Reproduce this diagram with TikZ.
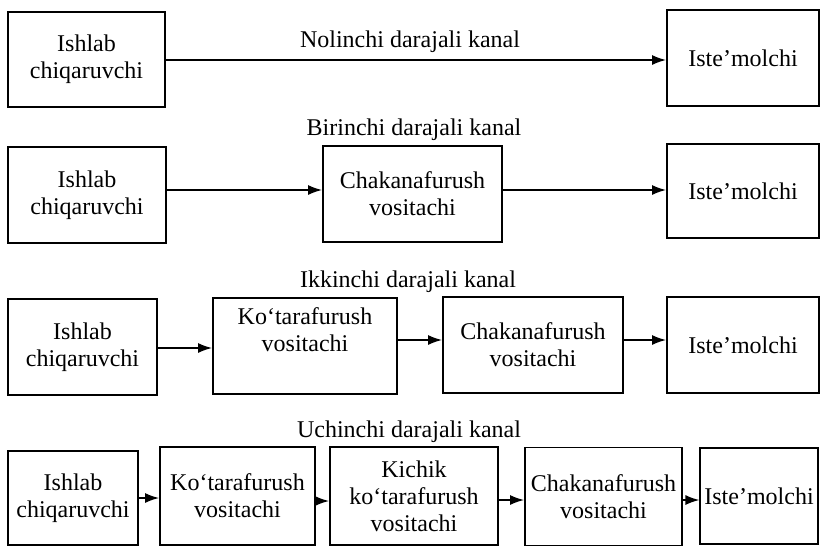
\documentclass[tikz,border=0pt]{standalone}
\usepackage{fontspec}
\setmainfont{Liberation Serif}
\usetikzlibrary{arrows.meta}

\begin{document}
\begin{tikzpicture}[
    x=0.5pt, y=-0.5pt,
    >={Latex[length=7pt,width=5pt]},
    box/.style={draw, line width=0.9pt, align=center, inner sep=2pt,
        font=\fontsize{12}{13.5}\selectfont},
    chan/.style={font=\fontsize{12}{14}\selectfont},
    flow/.style={->, line width=0.8pt},
]
\useasboundingbox (0,0) rectangle (823,547);

% nolinchi darajali kanal
\node[box, minimum width=78.5pt, minimum height=47.5pt] (prod0) at (86.5,59.5) {Ishlab\\chiqaruvchi};
\node[box, minimum width=76pt, minimum height=48pt] (cons0) at (743,58) {Iste’molchi};
\node[chan] (chan0) at (410,42) {Nolinchi darajali kanal};
\draw[flow] (prod0.east |- 0,60) -- (cons0.west |- 0,60);

% birinchi darajali kanal
\node[chan] (chan1) at (414,130) {Birinchi darajali kanal};
\node[box, minimum width=79pt, minimum height=48pt] (prod1) at (87,195) {Ishlab\\chiqaruvchi};
\node[box, minimum width=89.5pt, minimum height=48pt] (ret1) at (412.5,194) {Chakanafurush\\vositachi};
\node[box, minimum width=76pt, minimum height=47pt] (cons1) at (743,191) {Iste’molchi};
\draw[flow] (prod1.east |- 0,190) -- (ret1.west |- 0,190);
\draw[flow] (ret1.east |- 0,190) -- (cons1.west |- 0,190);

% ikkinchi darajali kanal
\node[chan] (chan2) at (408,282) {Ikkinchi darajali kanal};
\node[box, minimum width=74.5pt, minimum height=48pt] (prod2) at (82.5,347) {Ishlab\\chiqaruvchi};
\node[box, minimum width=92pt, minimum height=48pt] (whole2) at (305,346) {Ko‘tarafurush\\vositachi\\[3pt]};
\node[box, minimum width=90pt, minimum height=48pt] (ret2) at (533,345) {Chakanafurush\\vositachi};
\node[box, minimum width=76pt, minimum height=48pt] (cons2) at (743,345) {Iste’molchi};
\draw[flow] (prod2.east |- 0,348) -- (whole2.west |- 0,348);
\draw[flow] (whole2.east |- 0,340) -- (ret2.west |- 0,340);
\draw[flow] (ret2.east |- 0,340) -- (cons2.west |- 0,340);

% uchinchi darajali kanal
\node[chan] (chan3) at (409,432) {Uchinchi darajali kanal};
\node[box, minimum width=65pt, minimum height=47pt] (prod3) at (73,498) {Ishlab\\chiqaruvchi};
\node[box, minimum width=77.5pt, minimum height=49pt] (whole3) at (237.5,496) {Ko‘tarafurush\\vositachi};
\node[box, minimum width=84pt, minimum height=49pt] (small3) at (414,496) {Kichik\\ko‘tarafurush\\vositachi};
\node[box, minimum width=78.5pt, minimum height=49pt] (ret3) at (603.5,496.5) {Chakanafurush\\vositachi};
\node[box, minimum width=54pt, minimum height=48pt] (cons3) at (759,496) {Iste’molchi};
\draw[flow] (prod3) -- (whole3.west |- prod3);
\draw[flow] (whole3.east |- 0,501) -- (small3.west |- 0,501);
\draw[flow] (small3.east |- 0,500) -- (ret3.west |- 0,500);
\draw[flow] (ret3.east |- 0,500) -- (cons3.west |- 0,500);

\end{tikzpicture}
\end{document}
